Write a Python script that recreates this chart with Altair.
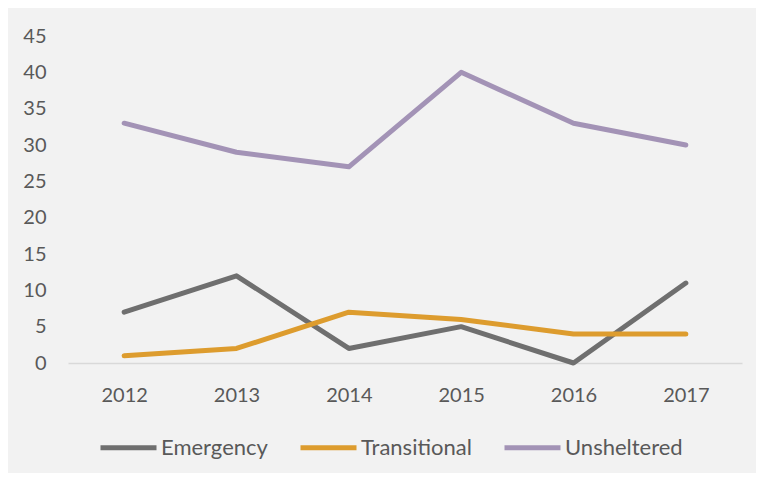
import altair as alt
import pandas as pd

years = ["2012", "2013", "2014", "2015", "2016", "2017"]
emergency = [7, 12, 2, 5, 0, 11]
transitional = [1, 2, 7, 6, 4, 4]
unsheltered = [33, 29, 27, 40, 33, 30]
series_names = ["Emergency", "Transitional", "Unsheltered"]
series_colors = ["#6f6f6f", "#dd9c2e", "#a393b6"]
y_ticks = list(range(0, 50, 5))

rows = []
for name, vals in zip(series_names, [emergency, transitional, unsheltered]):
    for yr, v in zip(years, vals):
        rows.append({"Year": yr, "Value": v, "Series": name})
df = pd.DataFrame(rows)

FONT = "Lato"
TXT = "#595959"

chart = alt.Chart(df).mark_line(strokeWidth=5, strokeCap="round", strokeJoin="round").encode(
    x=alt.X("Year:O", sort=years, title=None,
            axis=alt.Axis(labelAngle=0, ticks=False, domainColor="#d9d9d9", domainWidth=1.5,
                          labelPadding=22, labelFontSize=20, labelColor=TXT, labelFont=FONT,
                          grid=False)),
    y=alt.Y("Value:Q", title=None, scale=alt.Scale(domain=[0, 45], nice=False),
            axis=alt.Axis(values=y_ticks, grid=False, ticks=False, domain=False,
                          labelPadding=22, labelFontSize=20, labelColor=TXT, labelFont=FONT)),
    color=alt.Color("Series:N", sort=series_names,
                    scale=alt.Scale(domain=series_names, range=series_colors),
                    legend=alt.Legend(title=None, orient="none", direction="horizontal",
                                      legendX=30, legendY=381, symbolType="stroke",
                                      symbolSize=3136, symbolStrokeWidth=5,
                                      labelFontSize=22, labelColor=TXT, labelFont=FONT,
                                      labelOffset=2, columnPadding=22, padding=0)),
).properties(
    width=674, height=327,
    autosize=alt.AutoSizeParams(type="none"),
    padding={"left": 60, "top": 28, "right": 14, "bottom": 110},
    background="#f2f2f2",
).configure_view(stroke=None)

chart.save("out.html", embed_options={"renderer": "svg", "actions": False})
